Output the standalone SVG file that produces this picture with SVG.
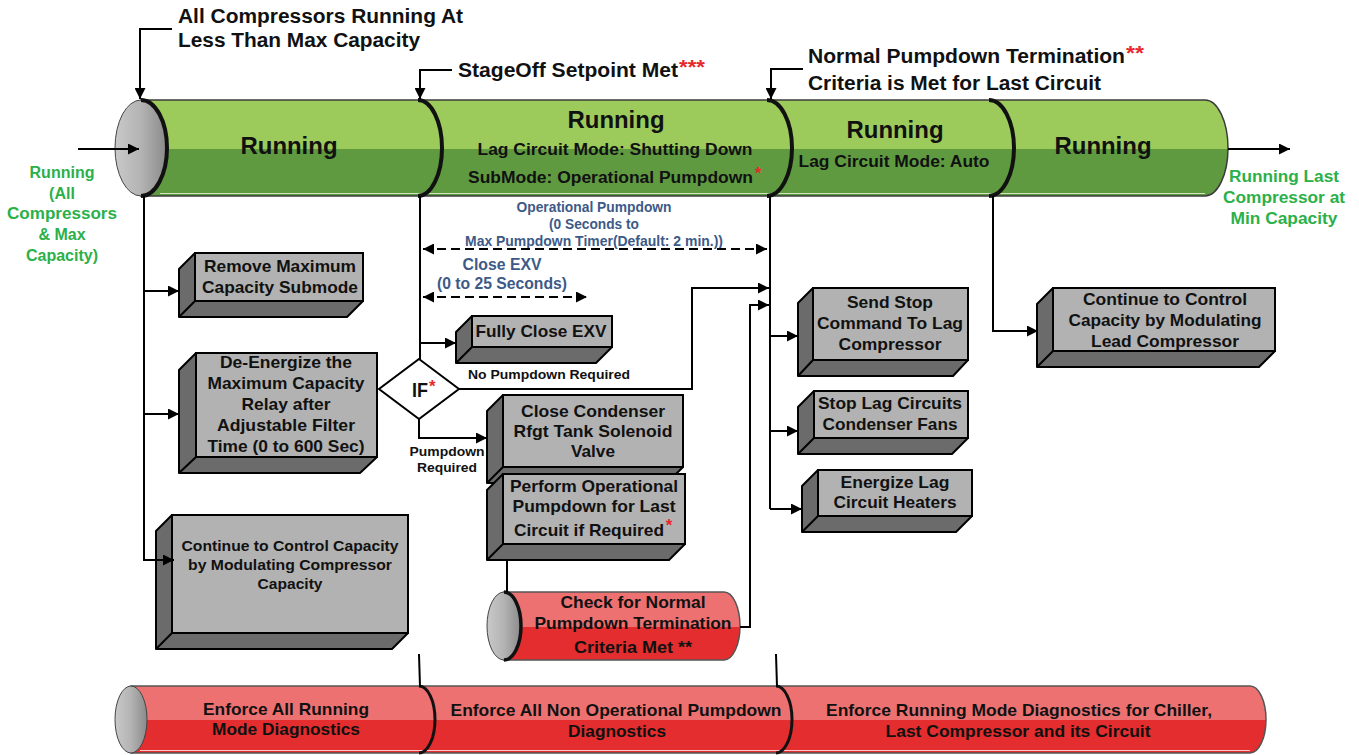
<svg xmlns="http://www.w3.org/2000/svg" width="1359" height="755" viewBox="0 0 1359 755">
<defs>
<linearGradient id="greenG" x1="0" y1="0" x2="0" y2="1">
<stop offset="0" stop-color="#9ccb5c"/><stop offset="0.51" stop-color="#9ccb5c"/>
<stop offset="0.51" stop-color="#5f9a41"/><stop offset="1" stop-color="#5f9a41"/>
</linearGradient>
<linearGradient id="redG" x1="0" y1="0" x2="0" y2="1">
<stop offset="0" stop-color="#ee7172"/><stop offset="0.51" stop-color="#ee7172"/>
<stop offset="0.51" stop-color="#e32d2e"/><stop offset="1" stop-color="#e32d2e"/>
</linearGradient>
<linearGradient id="capG" x1="0" y1="0" x2="1" y2="0">
<stop offset="0" stop-color="#c9c9c9"/><stop offset="0.5" stop-color="#b3b3b3"/><stop offset="1" stop-color="#8a8a8a"/>
</linearGradient>
<marker id="ah" viewBox="0 0 10 10" refX="10" refY="5" markerWidth="11" markerHeight="11" markerUnits="userSpaceOnUse" orient="auto-start-reverse">
<path d="M0,0 L10,5 L0,10 z" fill="#000"/>
</marker>
<style>
text{font-family:"Liberation Sans",Arial,Helvetica,sans-serif;font-weight:bold;fill:#111;}
.hd{font-size:20px;}
.cyl{font-size:24px;text-anchor:middle;}
.sub{font-size:16px;text-anchor:middle;}
.grn{font-size:16px;text-anchor:middle;fill:#2bb04a;}
.blu{font-size:14px;text-anchor:middle;fill:#3d5a87;}
.blu16{font-size:16px;text-anchor:middle;fill:#3d5a87;}
.bx{font-size:17px;text-anchor:middle;}
.bx15{font-size:15px;text-anchor:middle;}
.sm{font-size:13.5px;text-anchor:middle;}
.red{fill:#e8262b;}
.ln{fill:none;stroke:#000;stroke-width:2;}
.arr{fill:none;stroke:#000;stroke-width:2;marker-end:url(#ah);}
.dash{fill:none;stroke:#000;stroke-width:2;stroke-dasharray:9 5;marker-start:url(#ah);marker-end:url(#ah);}
.side{fill:#6b6b6b;stroke:#000;stroke-width:2;stroke-linejoin:round;}
.front{fill:#b2b2b2;stroke:#000;stroke-width:2;}
.rim{fill:none;stroke:#111;stroke-width:4;}
.cap{fill:url(#capG);stroke:#444;stroke-width:1;}
</style>
</defs>

<!-- Top green cylinder -->
<g id="cyl-top">
<path d="M141,100 H1205 A23,48 0 0 1 1205,196 H141 Z" fill="url(#greenG)" stroke="#3c3c3c" stroke-width="1.5"/>
<line x1="160" y1="193.5" x2="1205" y2="193.5" stroke="#cfe3bd" stroke-width="1"/>
<ellipse cx="141" cy="148" rx="26" ry="48" class="cap"/>
<path d="M141,100 A26,48 0 0 1 141,196" class="rim"/>
<path d="M418,100 A24,48 0 0 1 418,196" class="rim"/>
<path d="M767,100 A25,48 0 0 1 767,196" class="rim"/>
<path d="M989,100 A25,48 0 0 1 989,196" class="rim"/>
<text class="cyl" x="289" y="154" textLength="97" lengthAdjust="spacingAndGlyphs">Running</text>
<text class="cyl" x="616" y="128" textLength="97" lengthAdjust="spacingAndGlyphs">Running</text>
<text class="sub" x="615" y="155" textLength="275" lengthAdjust="spacingAndGlyphs">Lag Circuit Mode: Shutting Down</text>
<text class="sub" x="610.5" y="183" textLength="285" lengthAdjust="spacingAndGlyphs">SubMode: Operational Pumpdown</text>
<text class="sub red" x="758" y="179">*</text>
<text class="cyl" x="895" y="138" textLength="97" lengthAdjust="spacingAndGlyphs">Running</text>
<text class="sub" x="894" y="167" textLength="191" lengthAdjust="spacingAndGlyphs">Lag Circuit Mode: Auto</text>
<text class="cyl" x="1103" y="154" textLength="97" lengthAdjust="spacingAndGlyphs">Running</text>
</g>

<!-- Header events -->
<g id="event-allcomp">
<text class="hd" x="178" y="23" textLength="285" lengthAdjust="spacingAndGlyphs">All Compressors Running At</text>
<text class="hd" x="178" y="47" textLength="242" lengthAdjust="spacingAndGlyphs">Less Than Max Capacity</text>
</g>
<g id="event-stageoff">
<text class="hd" x="458" y="77" textLength="220" lengthAdjust="spacingAndGlyphs">StageOff Setpoint Met</text>
<text class="hd red" x="679" y="74" textLength="26" lengthAdjust="spacingAndGlyphs">***</text>
</g>
<g id="event-normal">
<text class="hd" x="808" y="63" textLength="317" lengthAdjust="spacingAndGlyphs">Normal Pumpdown Termination</text>
<text class="hd red" x="1126" y="60" textLength="18" lengthAdjust="spacingAndGlyphs">**</text>
<text class="hd" x="808" y="90" textLength="293" lengthAdjust="spacingAndGlyphs">Criteria is Met for Last Circuit</text>
</g>

<!-- Side labels -->
<g id="label-in">
<text class="grn" x="62" y="178">Running</text>
<text class="grn" x="62" y="199">(All</text>
<text class="grn" x="62" y="219" textLength="110" lengthAdjust="spacingAndGlyphs">Compressors</text>
<text class="grn" x="62" y="240">&amp; Max</text>
<text class="grn" x="62" y="261">Capacity)</text>
</g>
<g id="label-out">
<text class="grn" x="1284" y="182" textLength="110" lengthAdjust="spacingAndGlyphs">Running Last</text>
<text class="grn" x="1284" y="203" textLength="122" lengthAdjust="spacingAndGlyphs">Compressor at</text>
<text class="grn" x="1284" y="224" textLength="107" lengthAdjust="spacingAndGlyphs">Min Capacity</text>
</g>

<!-- Timing labels -->
<g id="label-timing">
<text class="blu" x="594" y="212" textLength="155" lengthAdjust="spacingAndGlyphs">Operational Pumpdown</text>
<text class="blu" x="594" y="229" textLength="90" lengthAdjust="spacingAndGlyphs">(0 Seconds to</text>
<text class="blu" x="594" y="246" textLength="258" lengthAdjust="spacingAndGlyphs">Max Pumpdown Timer(Default: 2 min.))</text>
<text class="blu16" x="502" y="270" textLength="79" lengthAdjust="spacingAndGlyphs">Close EXV</text>
<text class="blu16" x="502" y="289" textLength="130" lengthAdjust="spacingAndGlyphs">(0 to 25 Seconds)</text>
</g>

<!-- Boxes -->
<g id="box-remove">
<polygon class="side" points="195,253 179,269 179,317 347,317 363,301 195,301"/>
<rect class="front" x="195" y="253" width="168" height="48"/>
<line class="ln" x1="195" y1="301" x2="179" y2="317"/>
<text class="bx" x="280" y="272" textLength="152" lengthAdjust="spacingAndGlyphs">Remove Maximum</text>
<text class="bx" x="280" y="293" textLength="156" lengthAdjust="spacingAndGlyphs">Capacity Submode</text>
</g>
<g id="box-deenergize">
<polygon class="side" points="196,353 179,370 179,473 360,473 377,457 196,457"/>
<rect class="front" x="196" y="353" width="181" height="104"/>
<line class="ln" x1="196" y1="457" x2="179" y2="473"/>
<text class="bx" x="286" y="368" textLength="132" lengthAdjust="spacingAndGlyphs">De-Energize the</text>
<text class="bx" x="286" y="389" textLength="157" lengthAdjust="spacingAndGlyphs">Maximum Capacity</text>
<text class="bx" x="286" y="410" textLength="89" lengthAdjust="spacingAndGlyphs">Relay after</text>
<text class="bx" x="286" y="431" textLength="138" lengthAdjust="spacingAndGlyphs">Adjustable Filter</text>
<text class="bx" x="286" y="452" textLength="157" lengthAdjust="spacingAndGlyphs">Time (0 to 600 Sec)</text>
</g>
<g id="box-continue-comp">
<polygon class="side" points="172,515 156,531 156,649 392,649 408,633 172,633"/>
<rect class="front" x="172" y="515" width="236" height="118"/>
<line class="ln" x1="172" y1="633" x2="156" y2="649"/>
<text class="bx15" x="290" y="551" textLength="217" lengthAdjust="spacingAndGlyphs">Continue to Control Capacity</text>
<text class="bx15" x="290" y="570" textLength="204" lengthAdjust="spacingAndGlyphs">by Modulating Compressor</text>
<text class="bx15" x="290" y="589" textLength="65" lengthAdjust="spacingAndGlyphs">Capacity</text>
</g>
<g id="box-fullyclose">
<polygon class="side" points="472,316 456,332 456,363 596,363 612,347 472,347"/>
<rect class="front" x="472" y="316" width="140" height="31"/>
<line class="ln" x1="472" y1="347" x2="456" y2="363"/>
<text class="bx" x="541" y="337" textLength="131" lengthAdjust="spacingAndGlyphs">Fully Close EXV</text>
</g>
<text class="sm" x="549" y="379" textLength="162" lengthAdjust="spacingAndGlyphs">No Pumpdown Required</text>
<text class="sm" x="447" y="456" textLength="75" lengthAdjust="spacingAndGlyphs">Pumpdown</text>
<text class="sm" x="447" y="472" textLength="60" lengthAdjust="spacingAndGlyphs">Required</text>
<g id="decision-if">
<polygon points="419,359 459,389 419,419 379,389" fill="#fff" stroke="#000" stroke-width="2"/>
<text x="412" y="397" style="font-size:21px" textLength="16" lengthAdjust="spacingAndGlyphs">IF</text>
<text class="red" x="429" y="392" style="font-size:17px">*</text>
</g>
<g id="box-closecond">
<polygon class="side" points="503,395 487,411 487,483 667,483 683,467 503,467"/>
<rect class="front" x="503" y="395" width="180" height="72"/>
<line class="ln" x1="503" y1="467" x2="487" y2="483"/>
<text class="bx" x="593" y="417" textLength="144" lengthAdjust="spacingAndGlyphs">Close Condenser</text>
<text class="bx" x="593" y="437" textLength="159" lengthAdjust="spacingAndGlyphs">Rfgt Tank Solenoid</text>
<text class="bx" x="593" y="457" textLength="44" lengthAdjust="spacingAndGlyphs">Valve</text>
</g>
<g id="box-perform">
<polygon class="side" points="503,474 487,490 487,560 669,560 685,544 503,544"/>
<rect class="front" x="503" y="474" width="182" height="70"/>
<line class="ln" x1="503" y1="544" x2="487" y2="560"/>
<text class="bx" x="594" y="492" textLength="168" lengthAdjust="spacingAndGlyphs">Perform Operational</text>
<text class="bx" x="594" y="512" textLength="163" lengthAdjust="spacingAndGlyphs">Pumpdown for Last</text>
<text class="bx" x="589" y="536" textLength="150" lengthAdjust="spacingAndGlyphs">Circuit if Required</text>
<text class="bx red" x="669" y="531">*</text>
</g>
<g id="cyl-check">
<path d="M504,592 H724 A16,34 0 0 1 724,660 H504 Z" fill="url(#redG)" stroke="#555" stroke-width="1.5"/>
<ellipse cx="504" cy="626" rx="17" ry="34" class="cap"/>
<path d="M504,592 A17,34 0 0 1 504,660" class="rim" style="stroke-width:3.5"/>
<text class="bx" x="633" y="608" textLength="145" lengthAdjust="spacingAndGlyphs">Check for Normal</text>
<text class="bx" x="633" y="629" textLength="197" lengthAdjust="spacingAndGlyphs">Pumpdown Termination</text>
<text class="bx" x="633" y="653" textLength="118" lengthAdjust="spacingAndGlyphs">Criteria Met **</text>
</g>
<g id="box-sendstop">
<polygon class="side" points="813,288 798,303 798,376 953,376 968,360 813,360"/>
<rect class="front" x="813" y="288" width="155" height="72"/>
<line class="ln" x1="813" y1="360" x2="798" y2="376"/>
<text class="bx" x="890" y="308" textLength="86" lengthAdjust="spacingAndGlyphs">Send Stop</text>
<text class="bx" x="890" y="329" textLength="146" lengthAdjust="spacingAndGlyphs">Command To Lag</text>
<text class="bx" x="890" y="350" textLength="103" lengthAdjust="spacingAndGlyphs">Compressor</text>
</g>
<g id="box-stoplag">
<polygon class="side" points="814,391 798,407 798,454 952,454 968,438 814,438"/>
<rect class="front" x="814" y="391" width="154" height="47"/>
<line class="ln" x1="814" y1="438" x2="798" y2="454"/>
<text class="bx" x="890" y="409" textLength="144" lengthAdjust="spacingAndGlyphs">Stop Lag Circuits</text>
<text class="bx" x="890" y="430" textLength="135" lengthAdjust="spacingAndGlyphs">Condenser Fans</text>
</g>
<g id="box-energize">
<polygon class="side" points="818,470 802,486 802,532 956,532 972,516 818,516"/>
<rect class="front" x="818" y="470" width="154" height="46"/>
<line class="ln" x1="818" y1="516" x2="802" y2="532"/>
<text class="bx" x="895" y="488" textLength="109" lengthAdjust="spacingAndGlyphs">Energize Lag</text>
<text class="bx" x="895" y="508" textLength="123" lengthAdjust="spacingAndGlyphs">Circuit Heaters</text>
</g>
<g id="box-lead">
<polygon class="side" points="1053,288 1037,304 1037,367 1259,367 1275,351 1053,351"/>
<rect class="front" x="1053" y="288" width="222" height="63"/>
<line class="ln" x1="1053" y1="351" x2="1037" y2="367"/>
<text class="bx" x="1165" y="305" textLength="164" lengthAdjust="spacingAndGlyphs">Continue to Control</text>
<text class="bx" x="1165" y="326" textLength="193" lengthAdjust="spacingAndGlyphs">Capacity by Modulating</text>
<text class="bx" x="1165" y="347" textLength="148" lengthAdjust="spacingAndGlyphs">Lead Compressor</text>
</g>

<!-- Bottom red cylinder -->
<g id="cyl-diagnostics">
<path d="M131,686 H1250 A16,33.5 0 0 1 1250,753 H131 Z" fill="url(#redG)" stroke="#555" stroke-width="1.5"/>
<line x1="140" y1="750.5" x2="1250" y2="750.5" stroke="#f6c8c8" stroke-width="1"/>
<ellipse cx="131" cy="719.5" rx="16" ry="33.5" class="cap"/>
<path d="M419,686 A16,33.5 0 0 1 419,753" class="rim" style="stroke-width:3"/>
<path d="M776,686 A16,33.5 0 0 1 776,753" class="rim" style="stroke-width:3"/>
<text class="bx" x="286" y="715" textLength="166" lengthAdjust="spacingAndGlyphs">Enforce All Running</text>
<text class="bx" x="286" y="735" textLength="148" lengthAdjust="spacingAndGlyphs">Mode Diagnostics</text>
<text class="bx" x="616" y="716" textLength="331" lengthAdjust="spacingAndGlyphs">Enforce All Non Operational Pumpdown</text>
<text class="bx" x="617" y="737" textLength="98" lengthAdjust="spacingAndGlyphs">Diagnostics</text>
<text class="bx" x="1019" y="716" textLength="386" lengthAdjust="spacingAndGlyphs">Enforce Running Mode Diagnostics for Chiller,</text>
<text class="bx" x="1018" y="737" textLength="265" lengthAdjust="spacingAndGlyphs">Last Compressor and its Circuit</text>
</g>

<!-- Connectors -->
<g id="connectors">
<polyline class="arr" points="172,29 140,29 140,99"/>
<polyline class="arr" points="452,70 420,70 420,99"/>
<polyline class="arr" points="803,69 771,69 771,99"/>
<line class="arr" x1="78" y1="149" x2="139" y2="149"/>
<line class="arr" x1="1228" y1="149" x2="1290" y2="149"/>
<polyline class="arr" points="144,196 144,560 174,560"/>
<line class="arr" x1="144" y1="291" x2="179" y2="291"/>
<line class="arr" x1="144" y1="414" x2="179" y2="414"/>
<line class="ln" x1="420" y1="196" x2="420" y2="359"/>
<line class="arr" x1="420" y1="343" x2="456" y2="343"/>
<polyline class="arr" points="459,389 692,389 692,288 769,288"/>
<polyline class="arr" points="419,419 419,438 487,438"/>
<line class="ln" x1="507" y1="561" x2="507" y2="592"/>
<polyline class="arr" points="740,627 750,627 750,305 769,305"/>
<line class="ln" x1="770" y1="196" x2="770" y2="509"/>
<line class="arr" x1="770" y1="336" x2="798" y2="336"/>
<line class="arr" x1="770" y1="431" x2="798" y2="431"/>
<polyline class="arr" points="770,509 802,509"/>
<polyline class="arr" points="993,196 993,331 1038,331"/>
<line class="dash" x1="423" y1="249" x2="767" y2="249"/>
<line class="dash" x1="423" y1="297" x2="587" y2="297"/>
<line class="ln" x1="419" y1="654" x2="420" y2="687"/>
<line class="ln" x1="776" y1="654" x2="777" y2="687"/>
</g>
</svg>
